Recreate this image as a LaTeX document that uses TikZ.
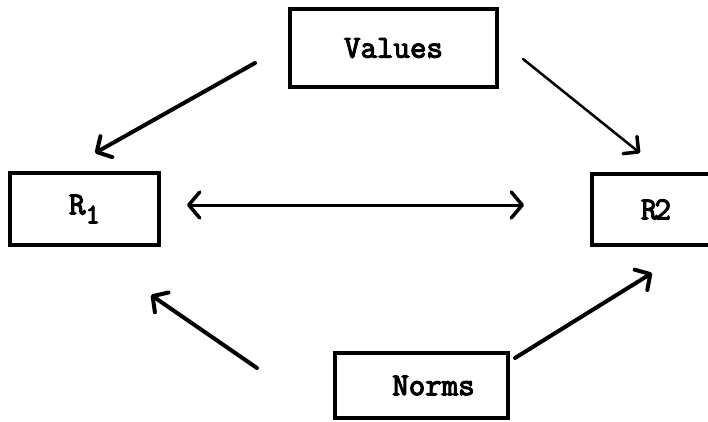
\documentclass[tikz,border=0pt]{standalone}
\usepackage{fontspec}
\newfontfamily\tw[FakeBold=3.5]{Latin Modern Mono}
\usetikzlibrary{arrows.meta}
\begin{document}
\begin{tikzpicture}[x=1pt,y=-1pt,
  box/.style={draw, line width=3.2pt, inner sep=0pt, font=\tw\fontsize{32}{32}\selectfont},
  link/.style={line width=4pt, line cap=round, -{Straight Barb[length=11pt,width=24pt,line width=4pt,round]}},
  thinlink/.style={line width=2.5pt, line cap=round, -{Straight Barb[length=11pt,width=22pt,line width=3.5pt,round]}},
  both/.style={line width=3pt, line cap=round, {Straight Barb[length=11pt,width=26pt,line width=3.5pt,round]}-{Straight Barb[length=11pt,width=26pt,line width=3.5pt,round]}}]
\useasboundingbox (0,0) rectangle (708,421);
\fill[white] (0,0) rectangle (708,421);
\begin{scope}
\clip (0,0) rectangle (708,421);
\node[box, minimum width=207pt, minimum height=78pt] (values) at (393.5,48) {Values};
\node[box, minimum width=149pt, minimum height=72pt] (r1) at (84.5,209) {R\kern0pt\raisebox{-9pt}{\fontsize{28}{28}\selectfont 1}\hspace{24pt}};
\node[box, minimum width=128pt, minimum height=71pt] (r2) at (656,209.5) {R\kern-3pt2\hspace{40pt}};
\node[box, minimum width=173pt, minimum height=65pt] (norms) at (421.5,385.5) {\hspace*{24pt}Norms};
\end{scope}
\coordinate (v1) at (255,63);
\coordinate (r1a) at (95,153);
\coordinate (v2) at (523,59);
\coordinate (r2a) at (640,153);
\coordinate (r1b) at (187,205);
\coordinate (r2b) at (524,205);
\coordinate (n1) at (257,368);
\coordinate (r1c) at (151,295);
\coordinate (n2) at (515,358);
\coordinate (r2c) at (652,273);
\draw[link] (v1) -- (r1a);
\draw[thinlink] (v2) -- (r2a);
\draw[both] (r1b) -- (r2b);
\draw[link] (n1) -- (r1c);
\draw[link] (n2) -- (r2c);
\end{tikzpicture}
\end{document}
